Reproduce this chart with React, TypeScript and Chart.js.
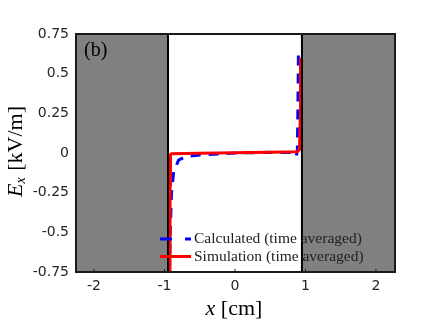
import React, { useEffect, useRef } from "react";
import { Chart, registerables } from "chart.js";

Chart.register(...registerables);

const calcX = [-0.93, -0.915, -0.9, -0.87, -0.8, -0.7, -0.5, 0, 0.5, 0.82, 0.85, 0.87, 0.885, 0.893, 0.9];
const calcY = [-0.75, -0.45, -0.25, -0.12, -0.045, -0.022, -0.012, 0.0, 0.004, 0.003, -0.013, -0.02, 0.02, 0.3, 0.62];
const simX = [-0.922, -0.92, -0.915, -0.9, -0.5, 0, 0.5, 0.88, 0.915, 0.925, 0.93];
const simY = [-0.75, -0.2, -0.01, -0.004, -0.002, 0.002, 0.005, 0.008, 0.02, 0.2, 0.6];
const xTicks = [-2, -1, 0, 1, 2];
const yTicks = [-0.75, -0.5, -0.25, 0, 0.25, 0.5, 0.75];
const wallPos = 0.95;
const xMin = -2.255;
const xMax = 2.27;
const legendLabels = ["Calculated (time averaged)", "Simulation (time averaged)"];
const panelLabel = "(b)";

const fmt = (v: number) => String(v);

const decorPlugin = {
  id: "decor",
  beforeDatasetsDraw(chart: any) {
    const { ctx, chartArea: a, scales } = chart;
    const xs = scales.x;
    ctx.save();
    ctx.fillStyle = "#808080";
    const lw = xs.getPixelForValue(-wallPos);
    const rw = xs.getPixelForValue(wallPos);
    ctx.fillRect(a.left, a.top, lw - a.left, a.bottom - a.top);
    ctx.fillRect(rw, a.top, a.right - rw, a.bottom - a.top);
    ctx.restore();
  },
  afterDatasetsDraw(chart: any) {
    const { ctx, chartArea: a, scales } = chart;
    const xs = scales.x;
    ctx.save();
    ctx.strokeStyle = "#000";
    ctx.lineWidth = 2;
    for (const w of [-wallPos, wallPos]) {
      const p = xs.getPixelForValue(w);
      ctx.beginPath();
      ctx.moveTo(p, a.top);
      ctx.lineTo(p, a.bottom);
      ctx.stroke();
    }
    ctx.strokeStyle = "#1a1a1a";
    ctx.strokeRect(a.left, a.top, a.right - a.left, a.bottom - a.top);
    ctx.lineWidth = 1;
    for (const t of xTicks) {
      const p = xs.getPixelForValue(t);
      ctx.beginPath();
      ctx.moveTo(p, a.bottom);
      ctx.lineTo(p, a.bottom - 3);
      ctx.stroke();
    }
    // panel label
    ctx.fillStyle = "#000";
    ctx.font = '20px "Liberation Serif", "DejaVu Serif", serif';
    ctx.textBaseline = "middle";
    ctx.textAlign = "left";
    ctx.fillText(panelLabel, a.left + 8, a.top + 17);
    // legend
    const lx = 160;
    const ys = [239, 256.5];
    ctx.lineWidth = 3;
    ctx.strokeStyle = "#0000ff";
    ctx.setLineDash([12, 13]);
    ctx.beginPath();
    ctx.moveTo(lx, ys[0]);
    ctx.lineTo(lx + 31, ys[0]);
    ctx.stroke();
    ctx.setLineDash([]);
    ctx.strokeStyle = "#ff0000";
    ctx.beginPath();
    ctx.moveTo(lx, ys[1]);
    ctx.lineTo(lx + 31, ys[1]);
    ctx.stroke();
    ctx.fillStyle = "#222";
    ctx.font = '15.5px "Liberation Serif", "DejaVu Serif", serif';
    ctx.fillText(legendLabels[0], lx + 34, ys[0]);
    ctx.fillText(legendLabels[1], lx + 34, ys[1]);
    // axis titles
    ctx.fillStyle = "#000";
    ctx.textAlign = "left";
    const serifI = 'italic 22px "Liberation Serif", "DejaVu Serif", serif';
    const serifR = '22px "Liberation Serif", "DejaVu Serif", serif';
    ctx.font = serifI;
    const w1 = ctx.measureText("x").width;
    ctx.font = serifR;
    const w2 = ctx.measureText(" [cm]").width;
    const cx = 234;
    const sx = cx - (w1 + w2) / 2;
    ctx.font = serifI;
    ctx.fillText("x", sx, 309);
    ctx.font = serifR;
    ctx.fillText(" [cm]", sx + w1, 309);
    // y title
    ctx.translate(16, 152);
    ctx.rotate(-Math.PI / 2);
    const subF = 'italic 14px "Liberation Serif", "DejaVu Serif", serif';
    ctx.font = serifI;
    const e1 = ctx.measureText("E").width;
    ctx.font = subF;
    const e2 = ctx.measureText("x").width;
    ctx.font = serifR;
    const e3 = ctx.measureText(" [kV/m]").width;
    const ty = -(e1 + e2 + e3) / 2;
    ctx.font = serifI;
    ctx.fillText("E", ty, 0);
    ctx.font = subF;
    ctx.fillText("x", ty + e1, 5);
    ctx.font = serifR;
    ctx.fillText(" [kV/m]", ty + e1 + e2 + 1, 0);
    ctx.restore();
  },
};

export default function App() {
  const ref = useRef<HTMLCanvasElement | null>(null);
  useEffect(() => {
    if (!ref.current) return;
    const chart = new Chart(ref.current, {
      type: "scatter",
      data: {
        datasets: [
          {
            label: legendLabels[0],
            data: calcX.map((x, i) => ({ x, y: calcY[i] })),
            showLine: true,
            borderColor: "#0000ff",
            borderWidth: 3,
            borderDash: [10, 8],
            pointRadius: 0,
            order: 1,
          },
          {
            label: legendLabels[1],
            data: simX.map((x, i) => ({ x, y: simY[i] })),
            showLine: true,
            borderColor: "#ff0000",
            borderWidth: 3,
            pointRadius: 0,
            order: 0,
          },
        ],
      },
      options: {
        responsive: false,
        animation: false,
        layout: { padding: { top: 34, right: 41, left: 0, bottom: 0 } },
        plugins: { legend: { display: false }, tooltip: { enabled: false } },
        scales: {
          x: {
            type: "linear",
            min: xMin,
            max: xMax,
            afterBuildTicks: (s: any) => {
              s.ticks = xTicks.map((v) => ({ value: v }));
            },
            afterFit: (s: any) => {
              s.height = 55;
            },
            grid: { display: false, drawTicks: false },
            border: { display: false },
            ticks: {
              padding: 6,
              color: "#262626",
              font: { family: "DejaVu Sans", size: 14 },
              callback: (v: any) => fmt(v),
            },
          },
          y: {
            type: "linear",
            min: -0.75,
            max: 0.75,
            afterBuildTicks: (s: any) => {
              s.ticks = yTicks.map((v) => ({ value: v }));
            },
            afterFit: (s: any) => {
              s.width = 76;
            },
            grid: { display: false, drawTicks: false },
            border: { display: false },
            ticks: {
              padding: 7,
              color: "#262626",
              font: { family: "DejaVu Sans", size: 14 },
              callback: (v: any) => fmt(v),
            },
          },
        },
      },
      plugins: [decorPlugin],
    });
    return () => chart.destroy();
  }, []);
  return (
    <div style={{ position: "fixed", left: 0, top: 0, width: 436, height: 327, background: "#fff" }}>
      <canvas ref={ref} width={436} height={327} style={{ width: 436, height: 327 }} />
    </div>
  );
}
